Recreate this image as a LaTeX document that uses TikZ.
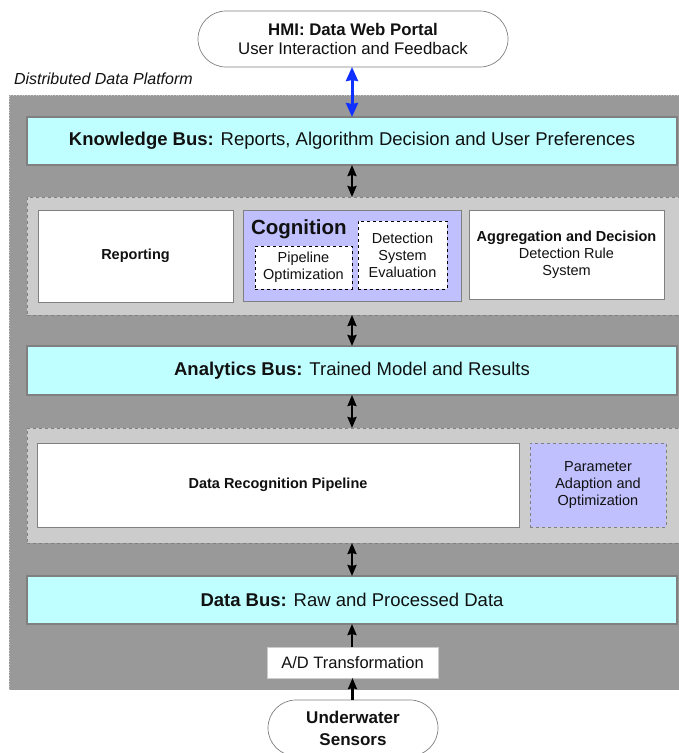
\documentclass[tikz,border=0pt]{standalone}
\usepackage{fontspec}
\setmainfont{Liberation Sans}
\usetikzlibrary{arrows.meta}
\definecolor{platgray}{HTML}{999999}
\definecolor{panelgray}{HTML}{CCCCCC}
\definecolor{buscyan}{HTML}{C0FFFF}
\definecolor{lav}{HTML}{C0C0FF}
\definecolor{edgegray}{HTML}{808080}
\definecolor{txt}{HTML}{111111}
\definecolor{arrblue}{HTML}{1030FF}
\tikzset{
  every node/.style={inner sep=0pt, outer sep=0pt, text=txt, align=center},
  busbox/.style={draw=edgegray, line width=1.4pt, fill=buscyan, font=\fontsize{18.5}{21}\selectfont},
  panelbox/.style={draw=edgegray, dashed, line width=0.5pt, fill=panelgray},
  whitebox/.style={draw=edgegray, line width=0.8pt, fill=white, font=\fontsize{14.5}{17}\selectfont},
  subbox/.style={draw=black, dashed, line width=0.8pt, fill=white, font=\fontsize{14.5}{17}\selectfont},
  pill/.style={draw=edgegray, line width=0.7pt, fill=white, rounded corners=28pt},
  dbl/.style={{Stealth[length=11pt,width=9pt,inset=1pt]}-{Stealth[length=11pt,width=9pt,inset=1pt]}, line width=2.2pt, black},
  upar/.style={-{Stealth[length=11pt,width=9pt,inset=1pt]}, line width=2.2pt, black},
}
\begin{document}
\begin{tikzpicture}[x=1pt,y=-1pt]
\useasboundingbox (0,0) rectangle (679,753);
% platform
\fill[platgray] (9,95) rectangle (685,690);
\draw[white, dotted, line width=0.8pt] (9,690) -- (685,690);
\draw[panelgray, dotted, line width=0.8pt] (9,690) -- (9,95) -- (685,95);
\node[anchor=west, font=\itshape\fontsize{16}{18}\selectfont] (plat) at (14,79) {Distributed Data Platform};

% HMI
\node[pill, minimum width=310pt, minimum height=56pt, font=\fontsize{16.8}{19}\selectfont] (hmi) at (353,39)
  {\textbf{HMI: Data Web Portal}\\User Interaction and Feedback};

% buses
\node[busbox, minimum width=650pt, minimum height=48pt] (kbus) at (352,141)
  {\textbf{Knowledge Bus:} Reports, Algorithm Decision and User Preferences};
\node[busbox, minimum width=650pt, minimum height=49pt] (abus) at (352,370.5)
  {\textbf{Analytics Bus:} Trained Model and Results};
\node[busbox, minimum width=650pt, minimum height=48pt] (dbus) at (352,600)
  {\textbf{Data Bus:} Raw and Processed Data};

% panel 1
\node[panelbox, minimum width=652pt, minimum height=118pt] (p1) at (353,256) {};
\node[whitebox, minimum width=195pt, minimum height=92pt] (rep) at (135.5,256) {\textbf{Reporting}};
\node[draw=edgegray, line width=0.8pt, fill=lav, minimum width=218pt, minimum height=91pt] (cog) at (352,255.5) {};
\node[anchor=north west, font=\bfseries\fontsize{20.5}{23}\selectfont] (cogt) at (251,220) {Cognition};
\node[subbox, minimum width=97pt, minimum height=43pt] (pipe) at (303.5,267.5) {Pipeline\\Optimization};
\node[subbox, minimum width=89pt, minimum height=68pt] (dse) at (402.5,255) {Detection\\System\\Evaluation};
\node[whitebox, minimum width=195pt, minimum height=89pt] (agg) at (566.5,254.5)
  {\textbf{Aggregation and Decision}\\Detection Rule\\System};

% panel 2
\node[panelbox, minimum width=652pt, minimum height=115pt] (p2) at (353,485.5) {};
\node[whitebox, minimum width=482pt, minimum height=84pt] (drp) at (278,485) {\textbf{Data Recognition Pipeline}};
\node[draw=edgegray, dashed, line width=0.8pt, fill=lav, minimum width=136pt, minimum height=84pt, font=\fontsize{14.5}{17}\selectfont] (par) at (598,485)
  {Parameter\\Adaption and\\Optimization};

% A/D and sensors
\node[draw=panelgray, line width=0.8pt, fill=white, minimum width=171pt, minimum height=31pt, font=\fontsize{16.5}{19}\selectfont] (ad) at (352.5,662.5) {A/D Transformation};
\node[pill, minimum width=170pt, minimum height=56pt, font=\bfseries\fontsize{17}{22}\selectfont] (sens) at (353,728) {Underwater\\Sensors};

% connectors
\draw[{Stealth[length=14pt,width=12pt,inset=1pt]}-{Stealth[length=14pt,width=12pt,inset=1pt]}, line width=3pt, arrblue] (hmi.south -| kbus.north) -- (kbus.north);
\draw[dbl] (kbus.south) -- (p1.north -| kbus.south);
\draw[dbl] (p1.south -| abus.north) -- (abus.north);
\draw[dbl] (abus.south) -- (p2.north -| abus.south);
\draw[dbl] (p2.south -| dbus.north) -- (dbus.north);
\draw[upar] (ad.north -| dbus.south) -- (dbus.south);
\draw[upar] (sens.north -| ad.south) -- (ad.south);
\end{tikzpicture}
\end{document}
